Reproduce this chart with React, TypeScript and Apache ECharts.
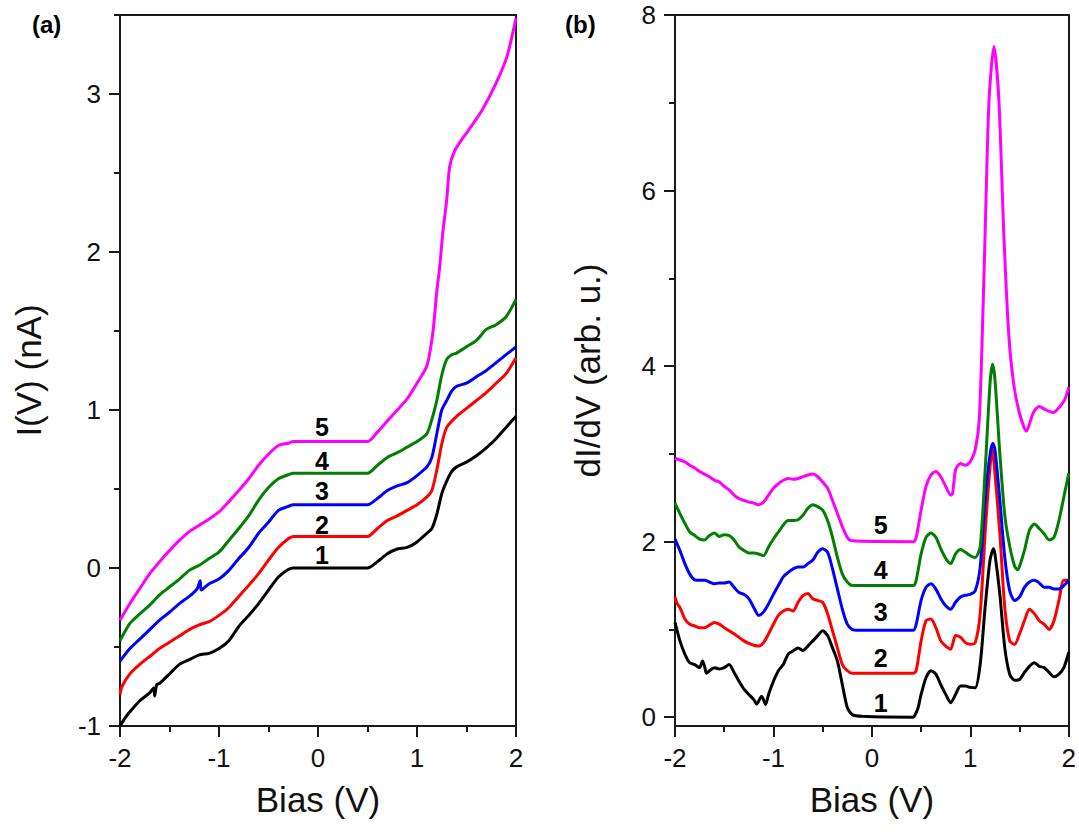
import React, { useEffect, useRef } from "react";
import * as echarts from "echarts";

// ---------- Panel (a): I(V) curves, [bias V, current nA] ----------
const iv1 = [[-2,-1.0],[-1.95,-0.95],[-1.9,-0.91],[-1.8,-0.84],[-1.7,-0.79],[-1.66,-0.76],[-1.65,-0.81],[-1.63,-0.74],[-1.6,-0.73],[-1.5,-0.67],[-1.4,-0.61],[-1.3,-0.58],[-1.2,-0.55],[-1.1,-0.54],[-1.0,-0.51],[-0.9,-0.46],[-0.8,-0.37],[-0.7,-0.30],[-0.6,-0.225],[-0.5,-0.14],[-0.4,-0.057],[-0.3,-0.01],[-0.25,0],[0.5,0],[0.6,0.04],[0.7,0.09],[0.8,0.12],[0.9,0.13],[1.0,0.165],[1.1,0.22],[1.15,0.25],[1.2,0.34],[1.25,0.47],[1.3,0.55],[1.35,0.61],[1.4,0.64],[1.5,0.67],[1.6,0.71],[1.7,0.76],[1.8,0.82],[1.9,0.89],[2.0,0.96]];
const iv2 = [[-2,-0.8],[-1.98,-0.75],[-1.9,-0.67],[-1.8,-0.61],[-1.7,-0.56],[-1.6,-0.51],[-1.5,-0.47],[-1.4,-0.43],[-1.3,-0.39],[-1.2,-0.36],[-1.1,-0.34],[-1.0,-0.30],[-0.9,-0.25],[-0.8,-0.18],[-0.7,-0.11],[-0.6,-0.036],[-0.5,0.05],[-0.4,0.13],[-0.3,0.185],[-0.25,0.2],[0.5,0.2],[0.6,0.25],[0.7,0.30],[0.8,0.33],[0.9,0.365],[1.0,0.40],[1.1,0.45],[1.15,0.49],[1.2,0.62],[1.25,0.785],[1.3,0.89],[1.4,0.96],[1.5,1.01],[1.6,1.06],[1.7,1.11],[1.8,1.17],[1.9,1.23],[2.0,1.33]];
const iv3 = [[-2,-0.59],[-1.9,-0.51],[-1.8,-0.45],[-1.7,-0.39],[-1.6,-0.33],[-1.5,-0.28],[-1.4,-0.225],[-1.3,-0.18],[-1.22,-0.13],[-1.19,-0.08],[-1.18,-0.14],[-1.1,-0.10],[-1.0,-0.07],[-0.9,-0.015],[-0.8,0.06],[-0.7,0.13],[-0.6,0.22],[-0.5,0.29],[-0.4,0.365],[-0.3,0.39],[-0.25,0.40],[0.5,0.40],[0.6,0.44],[0.7,0.49],[0.8,0.52],[0.9,0.54],[1.0,0.585],[1.1,0.64],[1.15,0.70],[1.2,0.85],[1.25,1.0],[1.3,1.06],[1.35,1.12],[1.4,1.15],[1.5,1.17],[1.6,1.21],[1.7,1.25],[1.8,1.30],[1.9,1.35],[2.0,1.40]];
const iv4 = [[-2,-0.46],[-1.9,-0.35],[-1.8,-0.29],[-1.7,-0.235],[-1.6,-0.17],[-1.5,-0.12],[-1.4,-0.07],[-1.3,-0.015],[-1.2,0.017],[-1.1,0.06],[-1.0,0.10],[-0.9,0.175],[-0.8,0.25],[-0.7,0.33],[-0.6,0.43],[-0.5,0.51],[-0.4,0.565],[-0.3,0.59],[-0.25,0.6],[0.5,0.6],[0.6,0.65],[0.7,0.70],[0.8,0.73],[0.9,0.765],[1.0,0.80],[1.1,0.85],[1.15,0.94],[1.2,1.06],[1.25,1.22],[1.3,1.32],[1.35,1.35],[1.4,1.36],[1.5,1.40],[1.6,1.44],[1.7,1.51],[1.8,1.54],[1.9,1.59],[2.0,1.70]];
const iv5 = [[-2,-0.33],[-1.9,-0.225],[-1.8,-0.13],[-1.7,-0.036],[-1.6,0.04],[-1.5,0.11],[-1.4,0.175],[-1.3,0.23],[-1.2,0.27],[-1.1,0.31],[-1.0,0.355],[-0.9,0.42],[-0.8,0.49],[-0.7,0.565],[-0.6,0.65],[-0.5,0.72],[-0.4,0.775],[-0.3,0.79],[-0.25,0.8],[0.5,0.8],[0.6,0.86],[0.7,0.93],[0.8,1.0],[0.9,1.07],[1.0,1.17],[1.1,1.28],[1.16,1.49],[1.2,1.75],[1.23,1.91],[1.26,2.12],[1.3,2.33],[1.33,2.54],[1.38,2.64],[1.45,2.71],[1.52,2.77],[1.66,2.90],[1.8,3.07],[1.91,3.24],[2.0,3.48]];

// ---------- Panel (b): dI/dV curves, [bias V, arb. u.] ----------
const didv1 = [[-2,1.08],[-1.95,0.87],[-1.9,0.72],[-1.85,0.62],[-1.8,0.60],[-1.75,0.565],[-1.72,0.64],[-1.7,0.58],[-1.68,0.50],[-1.65,0.53],[-1.6,0.565],[-1.55,0.55],[-1.5,0.565],[-1.45,0.60],[-1.4,0.51],[-1.35,0.41],[-1.3,0.32],[-1.25,0.26],[-1.2,0.20],[-1.17,0.15],[-1.12,0.24],[-1.08,0.145],[-1.05,0.26],[-1.0,0.41],[-0.95,0.53],[-0.9,0.60],[-0.85,0.72],[-0.8,0.755],[-0.75,0.79],[-0.7,0.76],[-0.65,0.81],[-0.6,0.87],[-0.55,0.93],[-0.5,0.985],[-0.45,0.93],[-0.4,0.79],[-0.35,0.64],[-0.3,0.37],[-0.25,0.11],[-0.2,0.03],[-0.1,0.01],[0.42,0],[0.44,0.03],[0.47,0.11],[0.5,0.26],[0.55,0.45],[0.6,0.53],[0.65,0.49],[0.7,0.37],[0.75,0.26],[0.8,0.165],[0.85,0.26],[0.9,0.355],[0.95,0.355],[1.0,0.34],[1.05,0.335],[1.1,0.60],[1.15,1.25],[1.2,1.79],[1.235,1.92],[1.25,1.86],[1.3,1.40],[1.35,0.79],[1.4,0.49],[1.45,0.42],[1.5,0.43],[1.55,0.51],[1.6,0.58],[1.65,0.62],[1.7,0.58],[1.75,0.565],[1.8,0.51],[1.85,0.46],[1.9,0.49],[1.95,0.565],[2.0,0.74]];
const didv2 = [[-2,1.37],[-1.98,1.30],[-1.95,1.25],[-1.9,1.12],[-1.85,1.06],[-1.8,1.04],[-1.75,1.02],[-1.7,1.02],[-1.65,1.05],[-1.6,1.08],[-1.55,1.06],[-1.5,1.02],[-1.45,0.985],[-1.4,0.95],[-1.35,0.91],[-1.3,0.87],[-1.25,0.84],[-1.2,0.82],[-1.15,0.81],[-1.1,0.85],[-1.05,0.95],[-1.0,1.06],[-0.95,1.16],[-0.9,1.21],[-0.85,1.23],[-0.8,1.21],[-0.75,1.31],[-0.7,1.385],[-0.65,1.41],[-0.6,1.35],[-0.55,1.33],[-0.5,1.31],[-0.45,1.18],[-0.4,0.985],[-0.35,0.79],[-0.3,0.60],[-0.25,0.53],[-0.2,0.50],[0.42,0.5],[0.45,0.53],[0.5,0.87],[0.55,1.10],[0.6,1.12],[0.65,1.02],[0.7,0.87],[0.75,0.81],[0.8,0.775],[0.85,0.93],[0.9,0.91],[0.95,0.85],[1.0,0.83],[1.05,0.85],[1.1,1.18],[1.15,2.09],[1.2,2.85],[1.225,3.05],[1.25,2.78],[1.3,2.09],[1.35,1.25],[1.4,0.87],[1.45,0.83],[1.5,0.95],[1.55,1.10],[1.6,1.23],[1.65,1.18],[1.7,1.10],[1.75,1.06],[1.8,1.00],[1.85,1.10],[1.9,1.33],[1.95,1.56],[2.0,1.56]];
const didv3 = [[-2,2.03],[-1.95,1.90],[-1.9,1.75],[-1.85,1.63],[-1.8,1.565],[-1.75,1.56],[-1.7,1.56],[-1.65,1.54],[-1.6,1.52],[-1.55,1.53],[-1.5,1.53],[-1.45,1.54],[-1.4,1.48],[-1.35,1.42],[-1.3,1.40],[-1.25,1.35],[-1.2,1.25],[-1.15,1.16],[-1.1,1.20],[-1.05,1.29],[-1.0,1.40],[-0.95,1.50],[-0.9,1.60],[-0.85,1.65],[-0.8,1.69],[-0.75,1.71],[-0.7,1.71],[-0.65,1.75],[-0.6,1.79],[-0.55,1.88],[-0.5,1.92],[-0.45,1.88],[-0.4,1.69],[-0.35,1.46],[-0.3,1.23],[-0.25,1.06],[-0.2,1.00],[-0.15,0.99],[0.42,0.99],[0.45,1.06],[0.5,1.33],[0.55,1.48],[0.6,1.52],[0.65,1.46],[0.7,1.35],[0.75,1.27],[0.8,1.23],[0.85,1.31],[0.9,1.37],[0.95,1.39],[1.0,1.40],[1.05,1.44],[1.1,1.71],[1.15,2.47],[1.2,2.99],[1.23,3.12],[1.25,3.05],[1.3,2.47],[1.35,1.82],[1.4,1.44],[1.45,1.33],[1.5,1.37],[1.55,1.48],[1.6,1.54],[1.65,1.56],[1.7,1.53],[1.75,1.48],[1.8,1.48],[1.85,1.46],[1.9,1.46],[1.95,1.50],[2.0,1.56]];
const didv4 = [[-2,2.44],[-1.95,2.32],[-1.9,2.21],[-1.85,2.11],[-1.8,2.07],[-1.75,2.03],[-1.7,2.02],[-1.65,2.07],[-1.6,2.10],[-1.55,2.06],[-1.5,2.08],[-1.45,2.07],[-1.4,2.02],[-1.35,1.94],[-1.3,1.90],[-1.25,1.87],[-1.2,1.87],[-1.15,1.86],[-1.1,1.84],[-1.05,1.94],[-1.0,2.03],[-0.95,2.11],[-0.9,2.19],[-0.85,2.24],[-0.8,2.24],[-0.75,2.25],[-0.7,2.30],[-0.65,2.38],[-0.6,2.42],[-0.55,2.40],[-0.5,2.36],[-0.45,2.24],[-0.4,2.05],[-0.35,1.82],[-0.3,1.63],[-0.25,1.54],[-0.2,1.50],[0.42,1.5],[0.45,1.56],[0.5,1.86],[0.55,2.05],[0.6,2.10],[0.65,2.05],[0.7,1.92],[0.75,1.81],[0.8,1.75],[0.85,1.86],[0.9,1.91],[0.95,1.88],[1.0,1.84],[1.05,1.82],[1.1,1.94],[1.15,2.8],[1.2,3.8],[1.225,4.02],[1.25,3.85],[1.3,3.0],[1.35,2.3],[1.4,1.95],[1.45,1.72],[1.48,1.68],[1.5,1.72],[1.55,1.90],[1.6,2.13],[1.65,2.20],[1.7,2.15],[1.75,2.09],[1.8,2.02],[1.85,2.05],[1.9,2.24],[1.95,2.51],[2.0,2.78]];
const didv5 = [[-2,2.95],[-1.95,2.93],[-1.9,2.91],[-1.85,2.87],[-1.8,2.84],[-1.75,2.80],[-1.7,2.77],[-1.65,2.74],[-1.6,2.70],[-1.55,2.68],[-1.5,2.63],[-1.45,2.59],[-1.4,2.53],[-1.35,2.49],[-1.3,2.47],[-1.25,2.45],[-1.2,2.44],[-1.15,2.42],[-1.1,2.45],[-1.05,2.53],[-1.0,2.61],[-0.95,2.66],[-0.9,2.70],[-0.85,2.72],[-0.8,2.71],[-0.75,2.72],[-0.7,2.74],[-0.65,2.76],[-0.6,2.77],[-0.55,2.74],[-0.5,2.68],[-0.45,2.61],[-0.4,2.47],[-0.35,2.32],[-0.3,2.17],[-0.25,2.05],[-0.2,2.01],[0.42,2.0],[0.45,2.05],[0.5,2.36],[0.55,2.63],[0.6,2.76],[0.65,2.80],[0.7,2.74],[0.75,2.63],[0.8,2.53],[0.82,2.55],[0.85,2.82],[0.9,2.89],[0.95,2.87],[1.0,2.91],[1.05,3.05],[1.09,3.38],[1.12,4.3],[1.15,5.5],[1.19,7.03],[1.24,7.64],[1.29,7.03],[1.34,5.51],[1.39,4.37],[1.44,3.80],[1.5,3.46],[1.57,3.26],[1.64,3.47],[1.7,3.54],[1.77,3.50],[1.84,3.47],[1.91,3.54],[1.96,3.62],[2.0,3.76]];

// curve numbers and their label anchors
const curveNames = ["1", "2", "3", "4", "5"];
const labelBiasA = 0.04;
const labelValuesA = [0.08, 0.27, 0.49, 0.68, 0.89];
const labelBiasB = 0.09;
const labelValuesB = [0.16, 0.67, 1.2, 1.68, 2.19];

// axis ticks
const biasTicks = { min: -2, max: 2, interval: 1 };
const yTicksA = [-1, 0, 1, 2, 3];
const yMinorA = [-0.5, 0.5, 1.5, 2.5, 3.5];
const yTicksB = [0, 2, 4, 6, 8];
const yMinorB = [1, 3, 5, 7];

const colors = ["#000000", "#ff0000", "#0000ff", "#007f00", "#ff00ff"];
const FONT = "Liberation Sans, Arial, sans-serif";
const AXIS_COLOR = "#1a1a1a";

export default function App() {
  const ref = useRef<HTMLDivElement>(null);
  useEffect(() => {
    if (!ref.current) return;
    const chart = echarts.init(ref.current, undefined, { renderer: "svg" });
    const lineStyle = { color: AXIS_COLOR, width: 2 };

    const bottomX = (gridIndex: number) => ({
      type: "value",
      gridIndex,
      position: "bottom",
      min: biasTicks.min,
      max: biasTicks.max,
      interval: biasTicks.interval,
      name: "Bias (V)",
      nameLocation: "middle",
      nameGap: 56,
      nameTextStyle: { fontSize: 35, fontFamily: FONT, color: "#111" },
      axisLine: { show: true, onZero: false, lineStyle },
      axisTick: { show: true, inside: false, length: 11, lineStyle },
      minorTick: { show: true, splitNumber: 2, length: 6, lineStyle },
      axisLabel: { fontSize: 26, fontFamily: FONT, color: "#111", margin: 19 },
      splitLine: { show: false },
      minorSplitLine: { show: false },
    });
    const topX = (gridIndex: number) => ({
      type: "value",
      gridIndex,
      position: "top",
      min: biasTicks.min,
      max: biasTicks.max,
      axisLine: { show: true, onZero: false, lineStyle },
      axisTick: { show: false },
      axisLabel: { show: false },
      splitLine: { show: false },
    });
    const leftY = (gridIndex: number, min: number, max: number, ticks: number[], name: string, nameGap: number) => ({
      type: "value",
      gridIndex,
      position: "left",
      min,
      max,
      name,
      nameLocation: "middle",
      nameGap,
      nameTextStyle: { fontSize: 35, fontFamily: FONT, color: "#111" },
      axisLine: { show: true, onZero: false, lineStyle },
      axisTick: { show: true, length: 11, lineStyle, customValues: ticks },
      axisLabel: { fontSize: 26, fontFamily: FONT, color: "#111", margin: 19, customValues: ticks },
      splitLine: { show: false },
    });
    const minorY = (gridIndex: number, min: number, max: number, ticks: number[]) => ({
      type: "value",
      gridIndex,
      position: "left",
      min,
      max,
      axisLine: { show: false, onZero: false },
      axisTick: { show: true, length: 6, lineStyle, customValues: ticks },
      axisLabel: { show: false },
      splitLine: { show: false },
    });
    const rightY = (gridIndex: number, min: number, max: number) => ({
      type: "value",
      gridIndex,
      position: "right",
      min,
      max,
      axisLine: { show: true, onZero: false, lineStyle },
      axisTick: { show: false },
      axisLabel: { show: false },
      splitLine: { show: false },
    });

    const ivData = [iv1, iv2, iv3, iv4, iv5];
    const didvData = [didv1, didv2, didv3, didv4, didv5];

    const lineSeries = (data: number[][], i: number, xIdx: number, yIdx: number) => ({
      type: "line",
      xAxisIndex: xIdx,
      yAxisIndex: yIdx,
      data,
      showSymbol: false,
      symbol: "none",
      smooth: 0.25,
      lineStyle: { color: colors[i], width: 3 },
      z: 2 + i,
    });

    const labelSeries = (bias: number, values: number[], xIdx: number, yIdx: number) => ({
      type: "custom",
      xAxisIndex: xIdx,
      yAxisIndex: yIdx,
      data: values.map((v) => [bias, v]),
      z: 10,
      silent: true,
      renderItem: (params: any, api: any) => {
        const p = api.coord([api.value(0), api.value(1)]);
        return {
          type: "text",
          x: p[0],
          y: p[1],
          style: {
            text: curveNames[params.dataIndex],
            font: `bold 25px ${FONT}`,
            fill: "#000",
            align: "center",
            verticalAlign: "middle",
          },
        };
      },
    });

    const series: any[] = [];
    ivData.forEach((d, i) => series.push(lineSeries(d, i, 0, 0)));
    didvData.forEach((d, i) => series.push(lineSeries(d, i, 2, 3)));
    series.push(labelSeries(labelBiasA, labelValuesA, 0, 0));
    series.push(labelSeries(labelBiasB, labelValuesB, 2, 3));

    chart.setOption({
      animation: false,
      backgroundColor: "#ffffff",
      grid: [
        { left: 120, top: 15, width: 396, height: 711, containLabel: false },
        { left: 675, top: 15, width: 396, height: 711, containLabel: false },
      ],
      xAxis: [bottomX(0), topX(0), bottomX(1), topX(1)],
      yAxis: [
        leftY(0, -1, 3.5, yTicksA, "I(V) (nA)", 74),
        minorY(0, -1, 3.5, yMinorA),
        rightY(0, -1, 3.5),
        leftY(1, -0.1, 8, yTicksB, "dI/dV (arb. u.)", 70),
        minorY(1, -0.1, 8, yMinorB),
        rightY(1, -0.1, 8),
      ],
      graphic: [
        { type: "text", left: 32, top: 12, style: { text: "(a)", font: `bold 24px ${FONT}`, fill: "#000" } },
        { type: "text", left: 565, top: 12, style: { text: "(b)", font: `bold 24px ${FONT}`, fill: "#000" } },
      ],
      series,
    });
    return () => chart.dispose();
  }, []);

  return (
    <div
      ref={ref}
      style={{ position: "absolute", left: 0, top: 0, width: 1079, height: 835, background: "#fff" }}
    />
  );
}
